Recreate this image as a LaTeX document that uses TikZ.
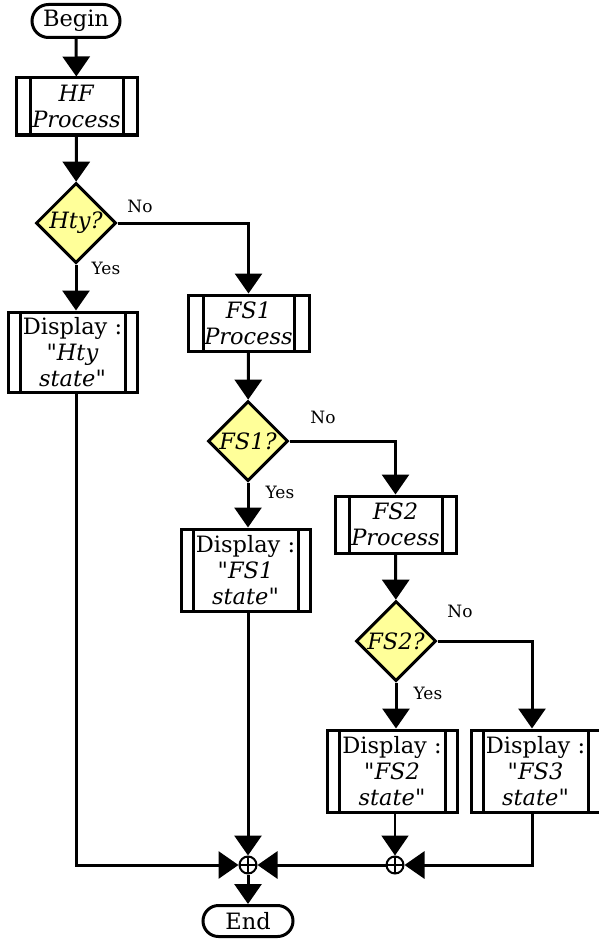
\documentclass[tikz,border=0pt]{standalone}
\usepackage{fontspec}
\setmainfont{DejaVu Serif}[Ligatures=TeXOff]
\usetikzlibrary{shapes.geometric,shapes.misc,arrows.meta}

\definecolor{decfill}{RGB}{255,255,153}

\tikzset{
  base/.style={draw, line width=3pt, align=center, inner sep=0pt,
    font=\fontsize{22.5}{26}\selectfont},
  term/.style={base, rounded rectangle, minimum height=33pt},
  subproc/.style={base, rectangle, minimum height=57pt,
    path picture={
      \draw[line width=3pt]
        ([xshift=#1]path picture bounding box.north west) --
        ([xshift=#1]path picture bounding box.south west)
        ([xshift=-#1]path picture bounding box.north east) --
        ([xshift=-#1]path picture bounding box.south east);
    }},
  subproc/.default=14pt,
  decision/.style={base, diamond, fill=decfill, minimum width=80pt,
    minimum height=80pt, font=\fontsize{22.5}{26}\selectfont\itshape},
  junction/.style={draw, circle, line width=2pt, minimum size=17pt, inner sep=0pt,
    path picture={
      \draw[line width=1.6pt]
        (path picture bounding box.north) -- (path picture bounding box.south)
        (path picture bounding box.west) -- (path picture bounding box.east);
    }},
  lbl/.style={font=\fontsize{17}{19}\selectfont, inner sep=0pt},
  arr/.style={line width=3pt, -{Triangle[length=20pt,width=27pt]}},
}

\begin{document}
\begin{tikzpicture}[x=1pt, y=-1pt]
  \useasboundingbox (0,0) rectangle (598,939);

  % main column
  \node[term, minimum width=88pt] (begin) at (76,21) {Begin};
  \node[subproc, minimum width=121pt] (hf) at (76.5,106.5) {\textit{HF}\\\textit{Process}};
  \node[decision] (hty) at (76,223) {Hty?};
  \node[subproc=12pt, minimum width=129pt, minimum height=80pt] (dhty) at (72.5,352)
    {Display :\\"\textit{Hty}\\\textit{state}"};

  % second column
  \node[subproc=15pt, minimum width=121pt, minimum height=56pt] (fs1p) at (248.5,323)
    {\textit{FS1}\\\textit{Process}};
  \node[decision] (fs1) at (248,441) {FS1?};
  \node[subproc=12pt, minimum width=129pt, minimum height=82pt] (dfs1) at (245.5,570)
    {Display :\\"\textit{FS1}\\\textit{state}"};

  % third column
  \node[subproc, minimum width=121pt] (fs2p) at (395.5,524.5)
    {\textit{FS2}\\\textit{Process}};
  \node[decision] (fs2) at (396,641) {FS2?};
  \node[subproc=12pt, minimum width=130pt, minimum height=82pt] (dfs2) at (392,771)
    {Display :\\"\textit{FS2}\\\textit{state}"};

  % fourth column
  \node[subproc=12pt, minimum width=129pt, minimum height=82pt] (dfs3) at (535.5,771)
    {Display :\\"\textit{FS3}\\\textit{state}"};
  \coordinate (c3) at (532,641);

  % merge points and end
  \node[junction] (j1) at (248,865) {};
  \node[junction] (j2) at (395,865) {};
  \node[term, minimum width=90pt, minimum height=31pt] (end) at (248,921) {End};

  % branch labels
  \node[lbl] at (140,206) {No};
  \node[lbl] at (106,268) {Yes};
  \node[lbl] at (323,417) {No};
  \node[lbl] at (280,492) {Yes};
  \node[lbl] at (460,611) {No};
  \node[lbl] at (428,693) {Yes};

  % flow
  \draw[arr] (begin) -- (hf);
  \draw[arr] (hf) -- (hty);
  \draw[arr] (hty) -- (hty |- dhty.north);
  \draw[arr] (hty.east) -| (fs1p.north);
  \draw[arr] (fs1p) -- (fs1);
  \draw[arr] (fs1) -- (fs1 |- dfs1.north);
  \draw[arr] (fs1.east) -| (fs2p.north);
  \draw[arr] (fs2p) -- (fs2);
  \draw[arr] (fs2) -- (fs2 |- dfs2.north);
  \draw[arr] (fs2.east) -| (c3 |- dfs3.north);

  % merging
  \draw[arr] (hty |- dhty.south) |- (j1);
  \draw[arr] (dfs1.south -| j1) -- (j1);
  \draw[arr] (j2) -- (j1);
  \draw[arr, line width=2pt] (dfs2.south -| j2) -- (j2);
  \draw[arr] (c3 |- dfs3.south) |- (j2);
  \draw[arr] (j1) -- (end);
\end{tikzpicture}
\end{document}
